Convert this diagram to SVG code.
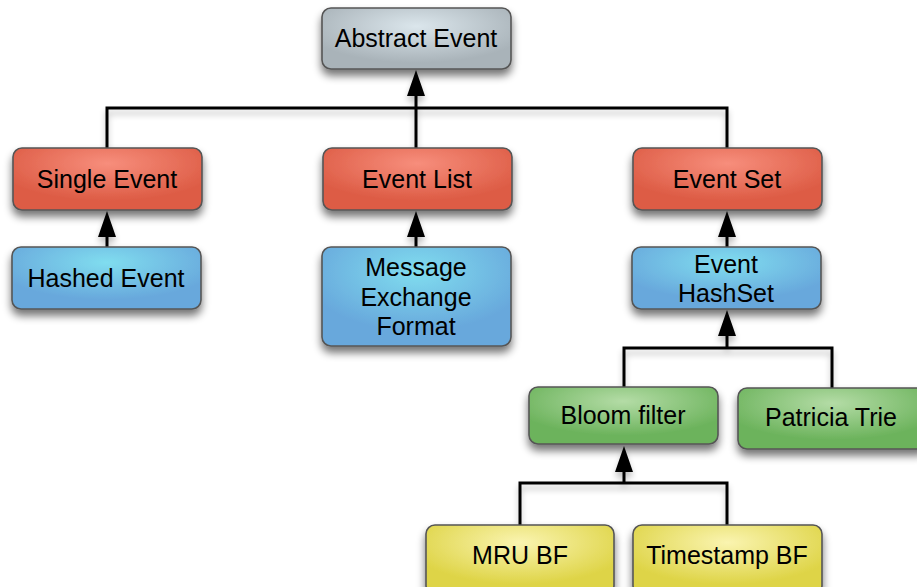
<svg xmlns="http://www.w3.org/2000/svg" width="917" height="587" viewBox="0 0 917 587">
<defs>
<style>
.node rect{stroke:#555;stroke-width:1.6;filter:url(#sh)}
.node text{font-family:"Liberation Sans",Arial,sans-serif;font-size:25px;fill:#000;text-anchor:middle}
.conn path{fill:none;stroke:#000;stroke-width:3}
.conn polygon{fill:#000;stroke:none}
.conn{filter:url(#lsh)}
</style>
<filter id="sh" x="-20%" y="-20%" width="140%" height="160%">
<feGaussianBlur in="SourceAlpha" stdDeviation="4"/>
<feOffset dy="6"/>
<feComponentTransfer><feFuncA type="linear" slope="0.55"/></feComponentTransfer>
<feMerge><feMergeNode/><feMergeNode in="SourceGraphic"/></feMerge>
</filter>
<filter id="lsh" filterUnits="userSpaceOnUse" x="0" y="0" width="917" height="587">
<feGaussianBlur in="SourceAlpha" stdDeviation="3"/>
<feOffset dy="5"/>
<feComponentTransfer><feFuncA type="linear" slope="0.25"/></feComponentTransfer>
<feMerge><feMergeNode/><feMergeNode in="SourceGraphic"/></feMerge>
</filter>
<radialGradient id="gGray" cx="50%" cy="30%" r="60%">
<stop offset="0" stop-color="#dbe6ec"/><stop offset="1" stop-color="#a9b3b9"/>
</radialGradient>
<radialGradient id="gRed" cx="50%" cy="25%" r="60%">
<stop offset="0" stop-color="#f78e7c"/><stop offset="1" stop-color="#dd5c45"/>
</radialGradient>
<radialGradient id="gBlue" cx="50%" cy="25%" r="60%">
<stop offset="0" stop-color="#80ddef"/><stop offset="1" stop-color="#68a8dc"/>
</radialGradient>
<radialGradient id="gGreen" cx="50%" cy="25%" r="60%">
<stop offset="0" stop-color="#b4dca6"/><stop offset="1" stop-color="#6cb35c"/>
</radialGradient>
<radialGradient id="gYellow" cx="50%" cy="25%" r="60%">
<stop offset="0" stop-color="#faf4b0"/><stop offset="1" stop-color="#ded446"/>
</radialGradient>
</defs>
<rect width="917" height="587" fill="#fff"/>
<g class="conn" id="connectors">
<path d="M107 148 V108 H727 V148"/>
<path d="M416 148 V92"/>
<polygon points="416,70 425,96 407,96"/>
<path d="M107 247 V232"/>
<polygon points="107,211 116,237 98,237"/>
<path d="M416 247 V232"/>
<polygon points="416,211 425,237 407,237"/>
<path d="M727 247 V232"/>
<polygon points="727,211 736,237 718,237"/>
<path d="M624 387 V348 H832 V388"/>
<path d="M727 348 V330"/>
<polygon points="727,310 736,336 718,336"/>
<path d="M520 525 V483 H727 V525"/>
<path d="M624 483 V466"/>
<polygon points="624,446 633,472 615,472"/>
</g>
<g class="node" id="abstract-event"><rect x="322" y="8" width="189" height="61" rx="9" fill="url(#gGray)"/><text x="416" y="47">Abstract Event</text></g>
<g class="node" id="single-event"><rect x="13" y="148" width="189" height="62" rx="9" fill="url(#gRed)"/><text x="107" y="188">Single Event</text></g>
<g class="node" id="event-list"><rect x="323" y="148" width="189" height="62" rx="9" fill="url(#gRed)"/><text x="417" y="188">Event List</text></g>
<g class="node" id="event-set"><rect x="633" y="148" width="189" height="62" rx="9" fill="url(#gRed)"/><text x="727" y="188">Event Set</text></g>
<g class="node" id="hashed-event"><rect x="12" y="247" width="189" height="62" rx="9" fill="url(#gBlue)"/><text x="106" y="287">Hashed Event</text></g>
<g class="node" id="message-exchange-format"><rect x="322" y="247" width="189" height="99" rx="9" fill="url(#gBlue)"/><text x="416" y="276">Message</text><text x="416" y="306">Exchange</text><text x="416" y="335">Format</text></g>
<g class="node" id="event-hashset"><rect x="632" y="247" width="189" height="62" rx="9" fill="url(#gBlue)"/><text x="726" y="273">Event</text><text x="726" y="302">HashSet</text></g>
<g class="node" id="bloom-filter"><rect x="529" y="387" width="189" height="57" rx="9" fill="url(#gGreen)"/><text x="623" y="424">Bloom filter</text></g>
<g class="node" id="patricia-trie"><rect x="738" y="388" width="189" height="61" rx="9" fill="url(#gGreen)"/><text x="831" y="426">Patricia Trie</text></g>
<g class="node" id="mru-bf"><rect x="426" y="525" width="188" height="70" rx="9" fill="url(#gYellow)"/><text x="520" y="564">MRU BF</text></g>
<g class="node" id="timestamp-bf"><rect x="633" y="525" width="189" height="70" rx="9" fill="url(#gYellow)"/><text x="727" y="564">Timestamp BF</text></g>
</svg>
